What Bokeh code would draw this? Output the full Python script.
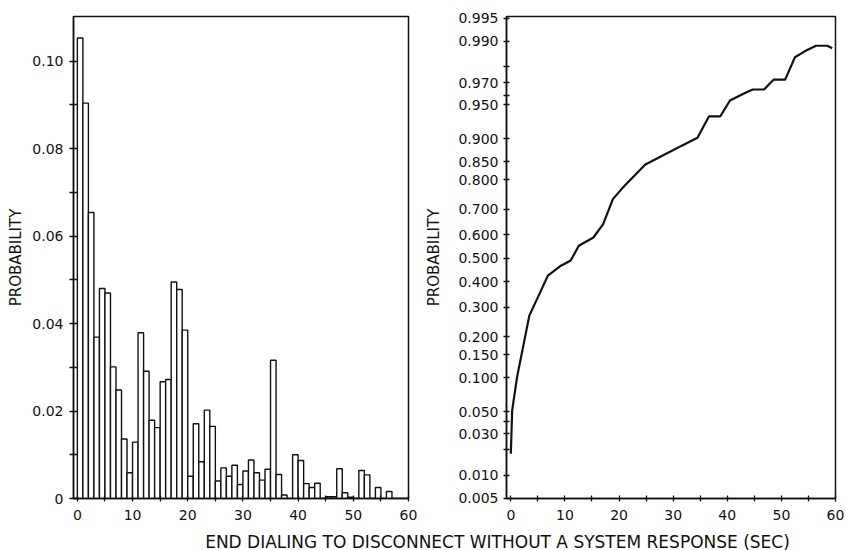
from statistics import NormalDist
from bokeh.plotting import figure
from bokeh.layouts import column, row
from bokeh.models import Range1d, FixedTicker, CustomJSTickFormatter
from bokeh.core.properties import value
from bokeh.embed import file_html
from bokeh.resources import INLINE

# ---------------- data ----------------
# histogram: probability per 1-second bin, bins starting at 0,1,2,...,59 s
hist_prob = [
    0.1053, 0.0904, 0.0654, 0.0369, 0.0480, 0.0470, 0.0301, 0.0248, 0.0136, 0.0059,
    0.0129, 0.0379, 0.0291, 0.0179, 0.0162, 0.0267, 0.0272, 0.0495, 0.0478, 0.0385,
    0.0051, 0.0171, 0.0084, 0.0202, 0.0165, 0.0040, 0.0070, 0.0051, 0.0076, 0.0032,
    0.0063, 0.0088, 0.0059, 0.0042, 0.0067, 0.0316, 0.0055, 0.0008, 0.0000, 0.0100,
    0.0087, 0.0034, 0.0025, 0.0035, 0.0000, 0.0004, 0.0004, 0.0068, 0.0013, 0.0003,
    0.0000, 0.0064, 0.0054, 0.0000, 0.0025, 0.0000, 0.0016, 0.0000, 0.0000, 0.0000,
]

# cumulative distribution (normal probability scale)
cdf_sec = [0.0, 0.25, 1.15, 3.42, 6.85, 9.26, 11.06, 12.56, 15.26, 17.06, 18.86,
           20.66, 24.86, 29.68, 31.5, 34.5, 36.6, 38.7, 40.5, 42.9, 44.7, 46.8,
           48.6, 50.7, 52.5, 54.3, 56.4, 58.5, 59.4]
cdf_prob = [0.018, 0.0514, 0.101, 0.269, 0.426, 0.468, 0.490, 0.553, 0.588, 0.643, 0.737,
            0.775, 0.843, 0.875, 0.886, 0.902, 0.936, 0.936, 0.9547, 0.961, 0.9649, 0.9649,
            0.9724, 0.9724, 0.9845, 0.9868, 0.9887, 0.9887, 0.9879]

left_y_major = [0.0, 0.02, 0.04, 0.06, 0.08, 0.10]
left_y_minor = [0.01, 0.03, 0.05, 0.07, 0.09]
x_major = [0, 10, 20, 30, 40, 50, 60]
x_minor = [5, 15, 25, 35, 45, 55]
prob_tick_labels = ["0.005", "0.010", "0.030", "0.050", "0.100", "0.150", "0.200",
                    "0.300", "0.400", "0.500", "0.600", "0.700", "0.800", "0.850",
                    "0.900", "0.950", "0.970", "0.990", "0.995"]
prob_minor = [0.02, 0.04, 0.96, 0.98]

x_title = "END DIALING TO DISCONNECT WITHOUT A SYSTEM RESPONSE (SEC)"
y_title = "PROBABILITY"

FONT = "DejaVu Sans"
INK = "#111111"
nd = NormalDist()


def style(p):
    p.outline_line_color = INK
    p.outline_line_width = 1.5
    p.xgrid.visible = False
    p.ygrid.visible = False
    p.background_fill_color = "white"
    p.border_fill_color = "white"
    for ax in p.axis:
        ax.axis_line_color = INK
        ax.axis_line_width = 1.5
        ax.major_tick_line_color = INK
        ax.minor_tick_line_color = INK
        ax.major_tick_line_width = 1.3
        ax.minor_tick_line_width = 1.3
        ax.major_label_text_font = FONT
        ax.major_label_text_font_size = "14px"
        ax.major_label_text_color = INK
        ax.axis_label_text_font = FONT
        ax.axis_label_text_font_size = "15px"
        ax.axis_label_text_font_style = "normal"
        ax.axis_label_text_color = INK
    p.xaxis.ticker = FixedTicker(ticks=x_major, minor_ticks=x_minor)
    p.xaxis.major_tick_in = 3
    p.xaxis.major_tick_out = 3
    p.xaxis.minor_tick_in = 3
    p.xaxis.minor_tick_out = 3
    p.xaxis.major_label_standoff = 8


# ---------------- left: histogram ----------------
p1 = figure(width=422, height=528, output_backend="svg", toolbar_location=None,
            x_range=Range1d(-0.7, 60), y_range=Range1d(0, 0.1102),
            min_border_left=73, min_border_right=14, min_border_top=16,
            min_border_bottom=30)
left_edges = list(range(len(hist_prob)))
right_edges = [e + 1 for e in left_edges]
p1.quad(left=left_edges, right=right_edges, bottom=0, top=hist_prob,
        fill_color="white", line_color=INK, line_width=1.4)
style(p1)
p1.yaxis.ticker = FixedTicker(ticks=left_y_major, minor_ticks=left_y_minor)
p1.yaxis.formatter = CustomJSTickFormatter(
    code="return tick == 0 ? '0' : tick.toFixed(2);")
p1.yaxis.major_tick_in = 4
p1.yaxis.major_tick_out = 4
p1.yaxis.minor_tick_in = 4
p1.yaxis.minor_tick_out = 4
p1.yaxis.major_label_standoff = 6
p1.yaxis.axis_label = y_title
p1.yaxis.axis_label_standoff = 4

# ---------------- right: cumulative, normal-probability scale ----------------
prob_vals = [float(s) for s in prob_tick_labels]
z_major = [nd.inv_cdf(v) for v in prob_vals]
z_minor = [nd.inv_cdf(v) for v in prob_minor]
cdf_z = [nd.inv_cdf(v) for v in cdf_prob]

p2 = figure(width=423, height=528, output_backend="svg", toolbar_location=None,
            x_range=Range1d(-0.8, 60), y_range=Range1d(-2.578, 2.594),
            min_border_left=79, min_border_right=10, min_border_top=15,
            min_border_bottom=30)
p2.line(cdf_sec, cdf_z, line_color=INK, line_width=2.2)
style(p2)
p2.yaxis.ticker = FixedTicker(ticks=z_major, minor_ticks=z_minor)
p2.yaxis.formatter = CustomJSTickFormatter(
    args=dict(zs=z_major, labs=prob_tick_labels),
    code="""
let best = 0; let d = Infinity;
for (let i = 0; i < zs.length; i++) {
  const e = Math.abs(zs[i] - tick);
  if (e < d) { d = e; best = i; }
}
return labs[best];
""")
p2.yaxis.major_tick_in = 3
p2.yaxis.major_tick_out = 3
p2.yaxis.minor_tick_in = 3
p2.yaxis.minor_tick_out = 3
p2.yaxis.major_label_standoff = 5
p2.yaxis.axis_label = y_title
p2.yaxis.axis_label_standoff = 12

# ---------------- shared x title ----------------
p3 = figure(width=845, height=22, output_backend="svg", toolbar_location=None,
            x_range=Range1d(0, 845), y_range=Range1d(0, 22),
            min_border=0, min_border_left=0, min_border_right=0,
            min_border_top=0, min_border_bottom=0)
p3.xaxis.visible = False
p3.yaxis.visible = False
p3.xgrid.visible = False
p3.ygrid.visible = False
p3.outline_line_color = None
p3.text(x=[497], y=[9], text=[x_title], text_font=value(FONT),
        text_font_size="17px", text_align="center", text_baseline="middle",
        text_color=INK)

layout = column(row(p1, p2, spacing=0), p3, spacing=0)
open("out.html", "w").write(file_html(layout, INLINE))
